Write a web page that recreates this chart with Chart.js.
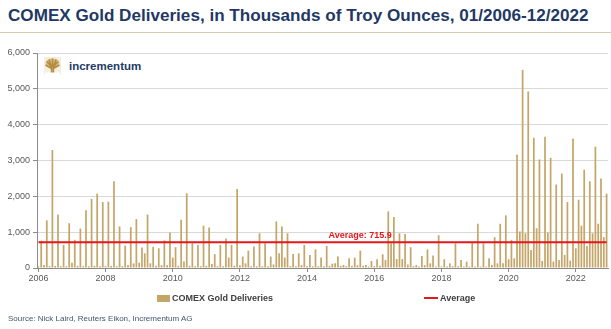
<!DOCTYPE html>
<html>
<head>
<meta charset="utf-8">
<script src="https://cdn.jsdelivr.net/npm/chart.js@4.4.0/dist/chart.umd.min.js"></script>
<style>
    html, body { margin: 0; padding: 0; background: #fff; }
    body { width: 611px; height: 329px; position: relative; overflow: hidden; font-family: "Liberation Sans", Arial, sans-serif; }
    #chart { position: absolute; left: 0; top: 0; }
    .title { position: absolute; left: 8px; top: 6px; font-size: 17.1px; font-weight: bold; color: #1f3864; white-space: nowrap; }
    .rule { position: absolute; left: 0; top: 32px; width: 611px; height: 1px; background: #d8ccb0; }
    .logo { position: absolute; left: 44px; top: 57px; height: 18px; display: flex; align-items: center; }
    .logo span { margin-left: 8px; font-size: 11.5px; font-weight: bold; color: #233a66; }
    .legend { position: absolute; top: 293px; font-size: 9px; font-weight: bold; color: #404040; display: flex; align-items: center; white-space: nowrap; }
    .swatch { width: 13px; height: 7px; background: #c5a66a; margin-right: 2px; }
    .redline { width: 14px; height: 2px; background: #e31a1c; margin-right: 2px; }
    .source { position: absolute; left: 8px; top: 314px; font-size: 8px; color: #44546a; white-space: nowrap; }
</style>
</head>
<body>
<div class="title">COMEX Gold Deliveries, in Thousands of Troy Ounces, 01/2006-12/2022</div>
<div class="rule"></div>
<div class="logo">
    <svg width="17" height="18" viewBox="0 0 17 18">
        <rect x="0" y="0" width="17" height="18" fill="#f5efe2"/>
        <ellipse cx="8.5" cy="6" rx="7" ry="4.5" fill="#d9bf86"/>
        <path d="M7.6 17 L7.6 10 L3 4.5 M7.6 10 L5 2.5 M8.5 10 L8.5 1.5 M9.4 10 L12 2.5 M9.4 10 L14 4.5 M7.6 11.5 L1.5 8 M9.4 11.5 L15.5 8 M9.4 17 L9.4 10" stroke="#b48c3e" stroke-width="1.6" fill="none"/>
        <rect x="1" y="15.5" width="15" height="2.5" fill="#fff"/>
    </svg>
    <span>incrementum</span>
</div>
<canvas id="chart" width="611" height="329"></canvas>
<div class="legend" style="left:157px"><div class="swatch"></div>COMEX Gold Deliveries</div>
<div class="legend" style="left:424px"><div class="redline"></div>Average</div>
<div class="source">Source: Nick Laird, Reuters Eikon, Incrementum AG</div>

<script>
// 月度数据 01/2006 - 12/2022（千盎司）
const years = [2006, 2007, 2008, 2009, 2010, 2011, 2012, 2013, 2014, 2015, 2016, 2017, 2018, 2019, 2020, 2021, 2022];
const deliveries = [
    50, 760, 85, 1330, 50, 3290, 60, 1490, 50, 645, 50, 1250,        // 2006
    150, 785, 60, 1100, 50, 1610, 50, 1925, 60, 2075, 50, 1840,      // 2007
    50, 1850, 60, 2420, 50, 1160, 50, 625, 85, 1140, 130, 1365,      // 2008
    150, 570, 410, 1490, 130, 590, 60, 550, 80, 770, 80, 990,        // 2009
    290, 580, 60, 1345, 180, 2085, 60, 690, 50, 645, 50, 1180,       // 2010
    60, 1130, 110, 385, 50, 645, 50, 820, 290, 645, 60, 2205,        // 2011
    80, 320, 130, 485, 50, 600, 50, 970, 50, 690, 50, 320,           // 2012
    100, 1300, 410, 1160, 290, 970, 50, 390, 50, 410, 80, 645,       // 2013
    50, 365, 50, 520, 50, 290, 50, 615, 60, 120, 130, 320,           // 2014
    60, 85, 50, 270, 60, 290, 80, 485, 60, 85, 40, 196,              // 2015
    50, 243, 60, 383, 225, 1580, 690, 1420, 250, 970, 250, 950,      // 2016
    100, 580, 50, 85, 40, 335, 80, 520, 130, 350, 40, 915,           // 2017
    40, 245, 40, 130, 50, 690, 50, 225, 40, 180, 40, 720,            // 2018
    40, 1235, 40, 690, 40, 270, 85, 860, 130, 1235, 130, 1470,       // 2019
    245, 785, 270, 3170, 1020, 5530, 970, 4925, 505, 3635, 1110, 3030, // 2020
    195, 3665, 990, 3075, 180, 2330, 225, 2635, 365, 1840, 205, 3615,  // 2021
    550, 1905, 1180, 2745, 615, 2420, 970, 3385, 1235, 2495, 860, 2075 // 2022
];
const averageValue = 715.9;
const yTicks = [0, 1000, 2000, 3000, 4000, 5000, 6000];
const yearLabels = ['2006', '2008', '2010', '2012', '2014', '2016', '2018', '2020', '2022'];

// 类别标签：YYYY-MM
const months = [];
years.forEach(function(y) {
    for (let m = 1; m <= 12; m++) {
        months.push(y + '-' + (m < 10 ? '0' + m : m));
    }
});

// 平均值文字标注
const averageLabel = {
    id: 'averageLabel',
    afterDatasetsDraw(chart) {
        const ctx = chart.ctx;
        const x = chart.scales.x.getPixelForValue(104) - 1;
        const y = chart.scales.y.getPixelForValue(averageValue) - 2;
        ctx.save();
        ctx.font = 'bold 9px "Liberation Sans", Arial, sans-serif';
        ctx.fillStyle = '#e8161b';
        ctx.textAlign = 'left';
        ctx.textBaseline = 'bottom';
        ctx.fillText('Average: ' + averageValue.toFixed(1), x, y);
        ctx.restore();
    }
};

document.addEventListener('DOMContentLoaded', function() {
    const ctx = document.getElementById('chart').getContext('2d');
    new Chart(ctx, {
        type: 'bar',
        data: {
            labels: months,
            datasets: [{
                type: 'line',
                label: 'Average',
                data: months.map(function() { return averageValue; }),
                borderColor: '#e8161b',
                borderWidth: 2,
                pointRadius: 0,
                order: 0
            }, {
                label: 'COMEX Gold Deliveries',
                data: deliveries,
                backgroundColor: '#c5a66a',
                barPercentage: 0.62,
                categoryPercentage: 1,
                order: 1
            }]
        },
        options: {
            responsive: false,
            animation: false,
            layout: { padding: { left: 0, right: 3, top: 53, bottom: 41 } },
            plugins: {
                legend: { display: false },
                tooltip: { enabled: false }
            },
            scales: {
                x: {
                    offset: true,
                    afterFit: function(scale) { scale.height = 20; },
                    border: { color: '#8c8c8c' },
                    grid: {
                        drawOnChartArea: false,
                        tickLength: 4,
                        offset: false,
                        color: function(c) {
                            return c.index % 24 === 0 ? '#8c8c8c' : 'rgba(0,0,0,0)';
                        }
                    },
                    ticks: {
                        autoSkip: false,
                        maxRotation: 0,
                        padding: 1,
                        color: '#595959',
                        font: { size: 9, family: '"Liberation Sans", Arial, sans-serif' },
                        callback: function(value, index) {
                            return index % 24 === 0 ? yearLabels[index / 24] : '';
                        }
                    }
                },
                y: {
                    min: yTicks[0],
                    max: yTicks[yTicks.length - 1],
                    afterFit: function(scale) { scale.width = 37; },
                    afterBuildTicks: function(scale) {
                        scale.ticks = yTicks.map(function(v) { return { value: v }; });
                    },
                    border: { color: '#8c8c8c' },
                    grid: {
                        color: '#d9d9d9',
                        tickLength: 4,
                        tickColor: '#8c8c8c'
                    },
                    ticks: {
                        padding: 3,
                        color: '#595959',
                        font: { size: 9, family: '"Liberation Sans", Arial, sans-serif' },
                        callback: function(value) { return value.toLocaleString('en-US'); }
                    }
                }
            }
        },
        plugins: [averageLabel]
    });
});
</script>
</body>
</html>
